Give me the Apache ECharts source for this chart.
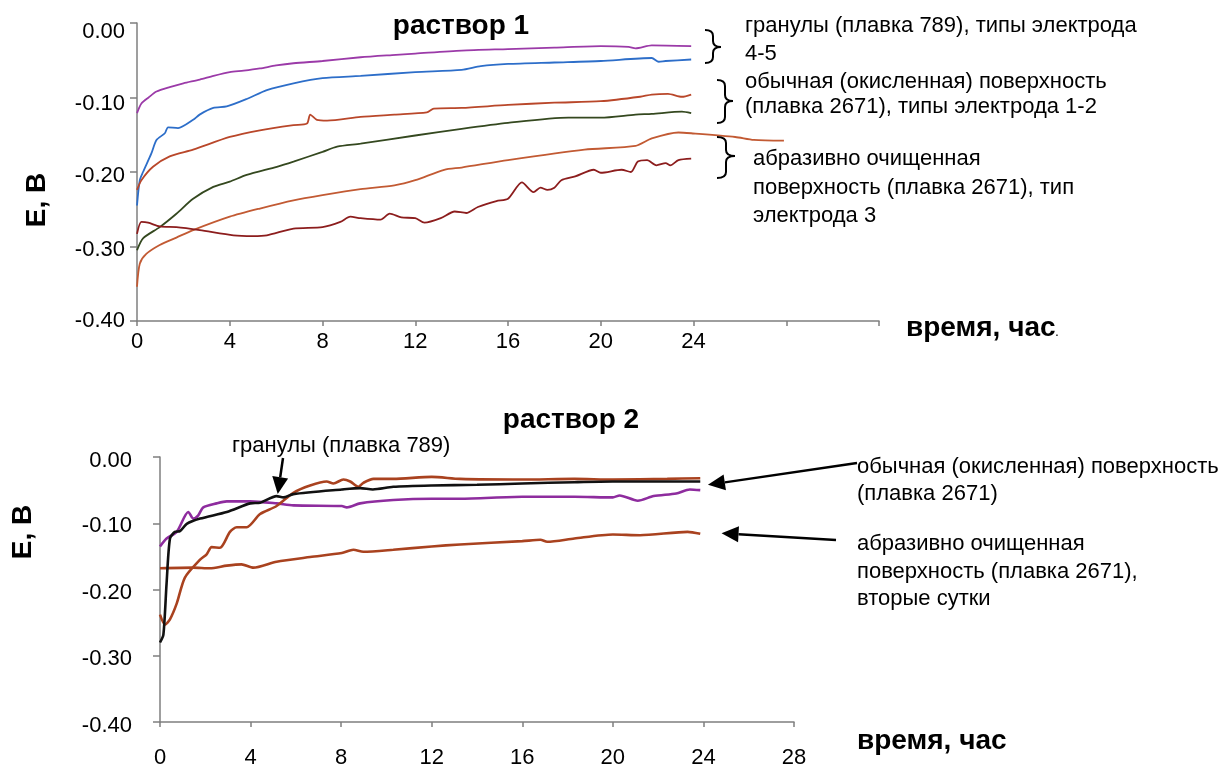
<!DOCTYPE html>
<html>
<head>
<meta charset="utf-8">
<script src="https://cdn.jsdelivr.net/npm/echarts@6/dist/echarts.min.js"></script>
<style>
  html, body { margin: 0; padding: 0; background: #fff; }
  #chart { width: 1229px; height: 769px; }
</style>
</head>
<body>
<div id="chart"></div>
<script>
// Potential E (V) versus time (h), solution 1 (upper panel) and solution 2 (lower panel)

const xTicks1 = [0, 4, 8, 12, 16, 20, 24];
const xTicks2 = [0, 4, 8, 12, 16, 20, 24, 28];
const yTicks = [-0.4, -0.3, -0.2, -0.1, 0];

// раствор 1
const r1Granules1 = [[0,-0.121],[0.19,-0.108],[0.5,-0.100],[0.84,-0.092],[1.41,-0.086],[2.0,-0.081],[2.71,-0.076],[3.3,-0.071],[4.0,-0.066],[4.6,-0.064],[5.3,-0.061],[6.0,-0.057],[6.75,-0.054],[8.0,-0.051],[9.64,-0.046],[11.0,-0.043],[12,-0.041],[14,-0.037],[16,-0.035],[18,-0.033],[20,-0.031],[21.2,-0.032],[21.5,-0.034],[22.2,-0.030],[23.9,-0.031]];
const r1Granules2 = [[0,-0.245],[0.12,-0.211],[0.26,-0.200],[0.62,-0.175],[0.84,-0.157],[1.2,-0.148],[1.34,-0.140],[1.77,-0.141],[2.42,-0.130],[2.7,-0.123],[3.29,-0.114],[3.87,-0.112],[4.73,-0.102],[5.6,-0.090],[6.75,-0.081],[8,-0.074],[9.64,-0.071],[12,-0.066],[14,-0.063],[14.83,-0.058],[16,-0.055],[18,-0.053],[20,-0.051],[22.2,-0.047],[22.5,-0.052],[22.8,-0.051],[23.9,-0.049]];
const r1Oxidized1 = [[0,-0.224],[0.19,-0.211],[0.69,-0.193],[1.41,-0.179],[2.42,-0.170],[4,-0.153],[5.3,-0.144],[6.75,-0.137],[7.33,-0.135],[7.47,-0.123],[7.76,-0.130],[8.2,-0.131],[9.64,-0.126],[11.1,-0.123],[12.5,-0.120],[12.8,-0.115],[14,-0.114],[16,-0.110],[18,-0.107],[20,-0.105],[21.7,-0.099],[22.2,-0.096],[22.9,-0.095],[23.5,-0.099],[23.9,-0.096]];
const r1Oxidized2 = [[0,-0.305],[0.26,-0.289],[0.98,-0.274],[1.7,-0.256],[2.42,-0.236],[3.29,-0.220],[4,-0.213],[4.73,-0.204],[6.03,-0.193],[6.75,-0.186],[8,-0.173],[8.63,-0.166],[9.64,-0.162],[12,-0.151],[14,-0.142],[16,-0.134],[18.6,-0.127],[20,-0.127],[21.5,-0.123],[22.2,-0.122],[23.5,-0.119],[23.9,-0.121]];
const r1Abrasive1 = [[0,-0.354],[0.12,-0.323],[0.4,-0.310],[0.98,-0.298],[1.7,-0.288],[2.42,-0.278],[4,-0.260],[5.3,-0.249],[6.75,-0.238],[8,-0.231],[9.64,-0.223],[11.1,-0.218],[12,-0.211],[13.25,-0.197],[14,-0.194],[16,-0.184],[19.3,-0.170],[21.5,-0.165],[22.2,-0.155],[23.35,-0.147],[23.9,-0.148],[25.8,-0.153],[26.6,-0.157],[27.9,-0.158]];
const r1Abrasive2 = [[0,-0.283],[0.19,-0.267],[0.48,-0.268],[0.98,-0.273],[1.7,-0.274],[2.71,-0.278],[4.16,-0.285],[5,-0.286],[5.6,-0.285],[6.75,-0.276],[8,-0.274],[8.77,-0.267],[9.2,-0.260],[9.64,-0.262],[10.5,-0.264],[10.9,-0.256],[11.4,-0.261],[12,-0.262],[12.4,-0.268],[13.1,-0.262],[13.7,-0.253],[14.2,-0.255],[14.7,-0.247],[15.5,-0.239],[16,-0.236],[16.6,-0.214],[17.1,-0.227],[17.4,-0.221],[17.7,-0.224],[18,-0.221],[18.3,-0.211],[18.9,-0.206],[19.7,-0.197],[20,-0.201],[20.9,-0.197],[21.3,-0.200],[21.6,-0.186],[22,-0.184],[22.4,-0.191],[22.8,-0.188],[23,-0.191],[23.35,-0.184],[23.9,-0.182]];

// раствор 2
const r2Granules = [[0,-0.135],[0.29,-0.123],[0.74,-0.113],[1.25,-0.083],[1.47,-0.093],[1.69,-0.088],[1.91,-0.076],[2.5,-0.070],[2.95,-0.067],[3.98,-0.067],[5.15,-0.070],[5.89,-0.073],[8.03,-0.074],[8.25,-0.076],[8.84,-0.070],[10.3,-0.065],[12,-0.063],[13.25,-0.063],[16,-0.060],[18.3,-0.060],[20,-0.061],[20.3,-0.058],[21.1,-0.066],[21.8,-0.059],[22.8,-0.055],[23.4,-0.049],[23.86,-0.050]];
const r2Black = [[0,-0.280],[0.15,-0.268],[0.29,-0.191],[0.44,-0.123],[0.66,-0.113],[0.88,-0.112],[1.18,-0.101],[1.77,-0.093],[2.95,-0.083],[3.98,-0.070],[4.42,-0.069],[5.15,-0.059],[5.45,-0.061],[5.89,-0.056],[8.03,-0.049],[8.84,-0.047],[9.4,-0.049],[10.3,-0.045],[12,-0.043],[14,-0.042],[16,-0.040],[18.3,-0.038],[20,-0.037],[23.86,-0.037]];
const r2Oxidized = [[0,-0.238],[0.22,-0.253],[0.44,-0.245],[0.74,-0.221],[1.1,-0.182],[1.77,-0.155],[2.06,-0.147],[2.28,-0.136],[2.65,-0.137],[3.09,-0.113],[3.39,-0.106],[3.83,-0.106],[4.42,-0.086],[5.15,-0.074],[5.89,-0.054],[6.63,-0.043],[7.36,-0.037],[7.66,-0.040],[8.1,-0.034],[8.4,-0.037],[8.76,-0.045],[8.98,-0.039],[9.43,-0.033],[10.3,-0.033],[12,-0.030],[13.25,-0.033],[16,-0.034],[18.3,-0.033],[20,-0.034],[22.4,-0.033],[23.86,-0.032]];
const r2Abrasive = [[0,-0.168],[1.47,-0.167],[2.2,-0.168],[2.95,-0.164],[3.6,-0.162],[4.12,-0.167],[5.15,-0.158],[6.63,-0.151],[8.03,-0.145],[8.54,-0.140],[8.98,-0.143],[10.3,-0.140],[12,-0.135],[13.25,-0.132],[16,-0.127],[16.8,-0.125],[17.1,-0.128],[18.3,-0.123],[20,-0.117],[21.2,-0.118],[23.3,-0.113],[23.86,-0.116]];

const FONT = '"Liberation Sans", Arial, sans-serif';
const AXIS_GRAY = '#7f7f7f';

const chart = echarts.init(document.getElementById('chart'), null, { renderer: 'canvas' });

function xAxisCfg(gridIndex, max, ticks, margin) {
  return {
    type: 'value', gridIndex, min: 0, max, interval: 4,
    axisLine: { show: true, onZero: false, lineStyle: { color: AXIS_GRAY, width: 1.5 } },
    axisTick: { show: true, length: 5, lineStyle: { color: AXIS_GRAY, width: 1.5 } },
    splitLine: { show: false },
    axisLabel: {
      margin, color: '#000', fontFamily: FONT, fontSize: 22,
      formatter: v => (ticks.indexOf(v) >= 0 ? String(v) : '')
    }
  };
}
// drop (px) of each y label below its tick, per panel
const yLabelDrop = [[9, 6, 4, 3, 0], [4, 3, 3, 3, 4]];
function yAxisCfg(gridIndex, margin) {
  const rich = {};
  yLabelDrop[gridIndex].forEach((d, i) => {
    rich['d' + i] = { fontFamily: FONT, fontSize: 22, color: '#000', padding: [2 * d, 0, 0, 0] };
  });
  return {
    type: 'value', gridIndex, min: yTicks[0], max: yTicks[yTicks.length - 1], interval: 0.1,
    axisLine: { show: true, onZero: false, lineStyle: { color: AXIS_GRAY, width: 1.5 } },
    axisTick: { show: true, length: 7, lineStyle: { color: AXIS_GRAY, width: 1.5 } },
    splitLine: { show: false },
    axisLabel: {
      margin, color: '#000', fontFamily: FONT, fontSize: 22, rich,
      formatter: v => {
        const i = Math.round(-v * 10);
        return '{d' + i + '|' + v.toFixed(2) + '}';
      }
    }
  };
}
function line(data, color, xi, width) {
  return {
    type: 'line', data, xAxisIndex: xi, yAxisIndex: xi, symbol: 'none', smooth: 0.25,
    lineStyle: { color, width }, silent: true, animation: false
  };
}

chart.setOption({
  animation: false,
  backgroundColor: '#fff',
  grid: [
    { left: 137, top: 23, width: 742, height: 298 },
    { left: 160, top: 457, width: 634, height: 271 }
  ],
  xAxis: [xAxisCfg(0, 32, xTicks1, 10), xAxisCfg(1, 28, xTicks2, 25)],
  yAxis: [yAxisCfg(0, 12), yAxisCfg(1, 28)],
  series: [
    line(r1Granules1, '#9b3aa8', 0, 1.8),
    line(r1Granules2, '#2d6ec9', 0, 1.8),
    line(r1Oxidized1, '#b9472a', 0, 1.8),
    line(r1Oxidized2, '#34481f', 0, 1.8),
    line(r1Abrasive1, '#c25a33', 0, 1.8),
    line(r1Abrasive2, '#8c1d1d', 0, 1.8),
    line(r2Abrasive, '#a9421f', 1, 2.6),
    line(r2Granules, '#8e2c9e', 1, 2.6),
    line(r2Oxidized, '#a9421f', 1, 2.6),
    line(r2Black, '#111111', 1, 2.6)
  ]
});

// Text, braces and arrows drawn on top of the two panels
function txt(x, y, s, size, opts) {
  return {
    type: 'text', x, y, silent: true, z: 100,
    style: Object.assign({ text: s, font: (opts && opts.bold ? 'bold ' : '') + size + 'px ' + FONT,
      fill: '#000', textAlign: 'left', textVerticalAlign: 'middle' }, opts && opts.style)
  };
}
function stroke(w) { return { stroke: '#000', lineWidth: w, fill: null }; }
// curly brace "}" made of quadratic curves and straight runs
function brace(x0, yTop, yBot, w, yMid) {
  const r = 6;
  const xv = x0 + w, xt = x0 + 2 * w;
  const curve = (x1, y1, cx, cy, x2, y2) => ({ type: 'bezierCurve', silent: true, z: 100,
    shape: { x1, y1, cpx1: cx, cpy1: cy, x2, y2 }, style: stroke(2) });
  const seg = (x1, y1, x2, y2) => ({ type: 'line', silent: true, z: 100,
    shape: { x1, y1, x2, y2 }, style: stroke(2) });
  return [
    curve(x0, yTop, xv, yTop, xv, yTop + r),
    seg(xv, yTop + r, xv, yMid - r),
    curve(xv, yMid - r, xv, yMid, xt, yMid),
    curve(xt, yMid, xv, yMid, xv, yMid + r),
    seg(xv, yMid + r, xv, yBot - r),
    curve(xv, yBot - r, xv, yBot, x0, yBot)
  ];
}
function arrow(tail, tip) {
  const dx = tip[0] - tail[0], dy = tip[1] - tail[1];
  const len = Math.sqrt(dx * dx + dy * dy);
  const ux = dx / len, uy = dy / len, px = -uy, py = ux;
  const L = 17, H = 8;
  const bx = tip[0] - ux * L, by = tip[1] - uy * L;
  return [
    { type: 'line', silent: true, z: 100, shape: { x1: tail[0], y1: tail[1], x2: bx, y2: by },
      style: { stroke: '#000', lineWidth: 2.5 } },
    { type: 'polygon', silent: true, z: 100,
      shape: { points: [[tip[0], tip[1]], [bx + px * H, by + py * H], [bx - px * H, by - py * H]] },
      style: { fill: '#000' } }
  ];
}

const tipGran = chart.convertToPixel({ gridIndex: 1 }, [5.2, -0.056]);
const tipOx = chart.convertToPixel({ gridIndex: 1 }, [24.2, -0.042]);
const tipAbr = chart.convertToPixel({ gridIndex: 1 }, [24.8, -0.115]);

const rotLabel = (x, y) => ({ type: 'text', x, y, rotation: Math.PI / 2, silent: true, z: 100,
  style: { text: 'Е, В', font: 'bold 28px ' + FONT, fill: '#000', textAlign: 'center', textVerticalAlign: 'middle' } });

const graphics = [
  txt(461, 26, 'раствор 1', 28, { bold: true, style: { textAlign: 'center' } }),
  txt(571, 420, 'раствор 2', 28, { bold: true, style: { textAlign: 'center' } }),
  rotLabel(37, 200),
  rotLabel(23, 532),
  txt(906, 328, 'время, час', 28, { bold: true }),
  txt(1055, 332, '.', 14),
  txt(857, 741, 'время, час', 28, { bold: true }),

  txt(745, 26, 'гранулы (плавка 789), типы электрода', 22),
  txt(745, 54, '4-5', 22),
  txt(745, 82, 'обычная (окисленная) поверхность', 22),
  txt(745, 107, '(плавка 2671), типы электрода 1-2', 22),
  txt(753, 159, 'абразивно очищенная', 22),
  txt(753, 188, 'поверхность (плавка 2671), тип', 22),
  txt(753, 216, 'электрода 3', 22),

  txt(232, 446, 'гранулы (плавка 789)', 22),
  txt(857, 467, 'обычная (окисленная) поверхность', 22),
  txt(857, 494, '(плавка 2671)', 22),
  txt(857, 544, 'абразивно очищенная', 22),
  txt(857, 572, 'поверхность (плавка 2671),', 22),
  txt(857, 599, 'вторые сутки', 22)
].concat(
  brace(705, 30, 63, 8, 47),
  brace(717, 80, 123, 8, 101),
  brace(717, 137, 178, 9, 156),
  arrow([283, 458], tipGran), arrow([857, 463], tipOx), arrow([836, 540], tipAbr)
);

chart.setOption({ graphic: graphics });
</script>
</body>
</html>
